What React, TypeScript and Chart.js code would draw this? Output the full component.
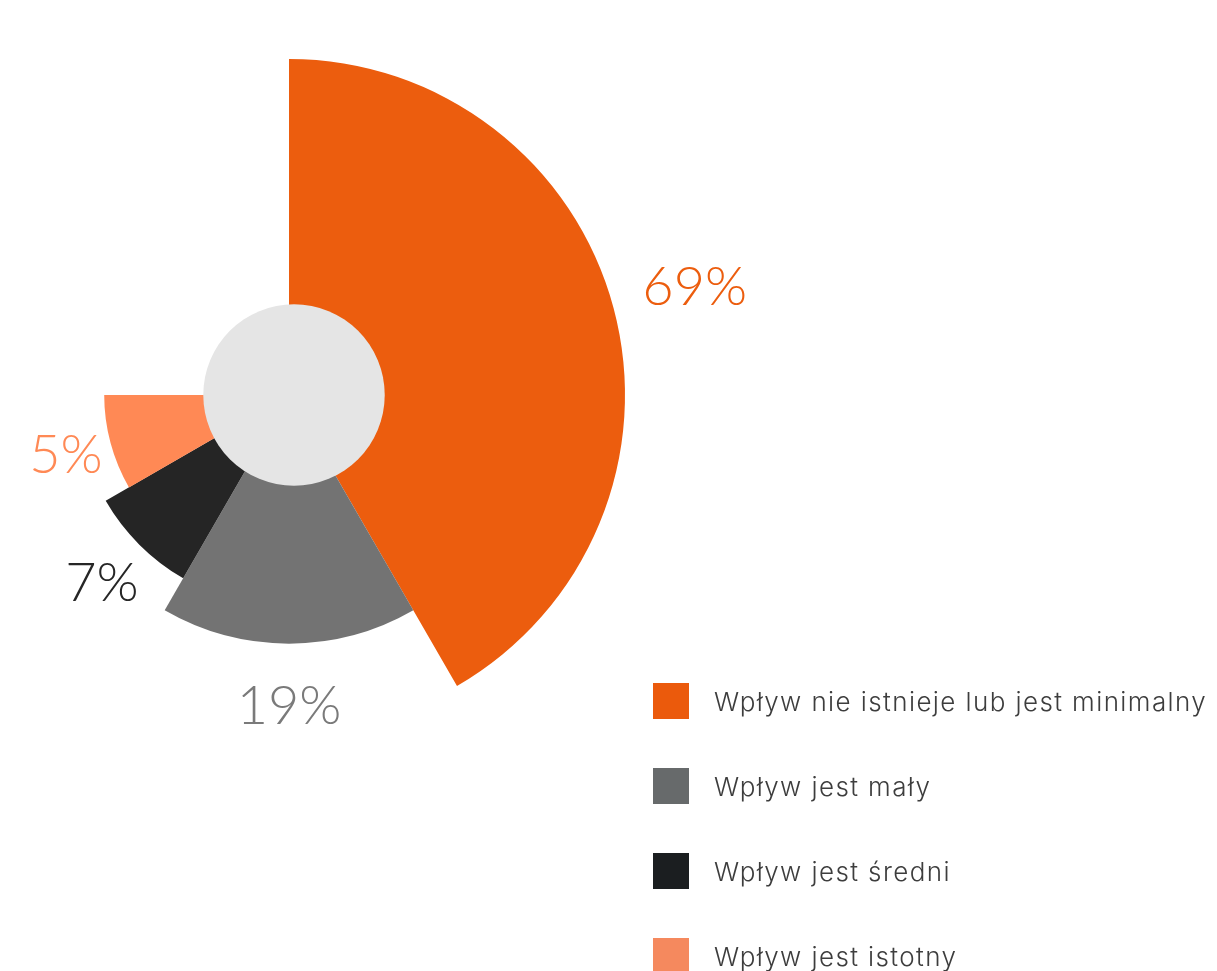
import { useEffect, useRef } from "react";
import { Chart, registerables } from "chart.js";

Chart.register(...registerables);

// ---- data ----
const categories = [
  "Wpływ nie istnieje lub jest minimalny",
  "Wpływ jest mały",
  "Wpływ jest średni",
  "Wpływ jest istotny",
];
const shares = [69, 19, 7, 5]; // printed percentages
const sliceAngles = [150, 60, 30, 30]; // angular extent of each slice (degrees)
const sliceRadii = [100, 74, 63, 55]; // radial extent of each slice (relative)
const holeRadius = 27; // central disc (relative)
const radialMax = 100;

const sliceColors = ["#EC5D0E", "#737373", "#252525", "#FF8955"];
const labelColors = ["#EC5D0E", "#7A7A7A", "#262626", "#FF8955"];
const legendColors = ["#EB5A0C", "#676A6B", "#1B1E20", "#F5895E"];

const overlayPlugin = {
  id: "overlay",
  afterDatasetsDraw(chart: any) {
    const ctx = chart.ctx as CanvasRenderingContext2D;
    const scale = chart.scales.r;
    const cx = scale.xCenter;
    const cy = scale.yCenter;
    ctx.save();
    // central disc
    ctx.fillStyle = "#E5E5E5";
    ctx.beginPath();
    ctx.arc(cx + 5, cy, scale.getDistanceFromCenterForValue(holeRadius), 0, Math.PI * 2);
    ctx.fill();
    // value labels
    const meta = chart.getDatasetMeta(0);
    ctx.font = "300 54px Lato, 'Open Sans', sans-serif";
    ctx.textAlign = "center";
    ctx.textBaseline = "middle";
    meta.data.forEach((arc: any, i: number) => {
      const { startAngle, endAngle, outerRadius } = arc.getProps(
        ["startAngle", "endAngle", "outerRadius"],
        true
      );
      const mid = (startAngle + endAngle) / 2;
      const text = shares[i] + "%";
      const d = outerRadius * 1.25;
      ctx.fillStyle = labelColors[i];
      ctx.fillText(text, cx + Math.cos(mid) * d, cy + Math.sin(mid) * d + 1);
    });
    ctx.restore();
  },
};

export default function App() {
  const ref = useRef<HTMLCanvasElement | null>(null);

  useEffect(() => {
    if (!ref.current) return;
    const chart = new Chart(ref.current, {
      type: "polarArea",
      data: {
        labels: categories,
        datasets: [
          {
            data: sliceRadii,
            angle: sliceAngles,
            backgroundColor: sliceColors,
            borderWidth: 0,
            clip: false,
          } as any,
        ],
      },
      options: {
        animation: false,
        responsive: false,
        maintainAspectRatio: false,
        layout: { padding: { left: 13, right: 215, top: 59, bottom: 69 } },
        plugins: { legend: { display: false }, tooltip: { enabled: false } },
        scales: {
          r: { display: false, min: 0, max: radialMax, startAngle: 0 } as any,
        },
      },
      plugins: [overlayPlugin],
    });
    return () => chart.destroy();
  }, []);

  return (
    <div
      style={{
        position: "absolute",
        left: 0,
        top: 0,
        width: 1217,
        height: 971,
        overflow: "hidden",
        background: "#ffffff",
      }}
    >
      <canvas
        ref={ref}
        width={900}
        height={800}
        style={{ position: "absolute", left: -60, top: 0, width: 900, height: 800 }}
      />
      <div style={{ position: "absolute", left: 653, top: 683 }}>
        {categories.map((c, i) => (
          <div
            key={c}
            style={{ display: "flex", alignItems: "center", height: 36, marginBottom: 49 }}
          >
            <span
              style={{ display: "inline-block", width: 36, height: 36, background: legendColors[i] }}
            />
            <span
              style={{
                marginLeft: 25,
                font: "300 26px Inter, 'Open Sans', sans-serif",
                letterSpacing: "1.4px",
                color: "#3d3d3d",
                whiteSpace: "nowrap",
              }}
            >
              {c}
            </span>
          </div>
        ))}
      </div>
    </div>
  );
}
